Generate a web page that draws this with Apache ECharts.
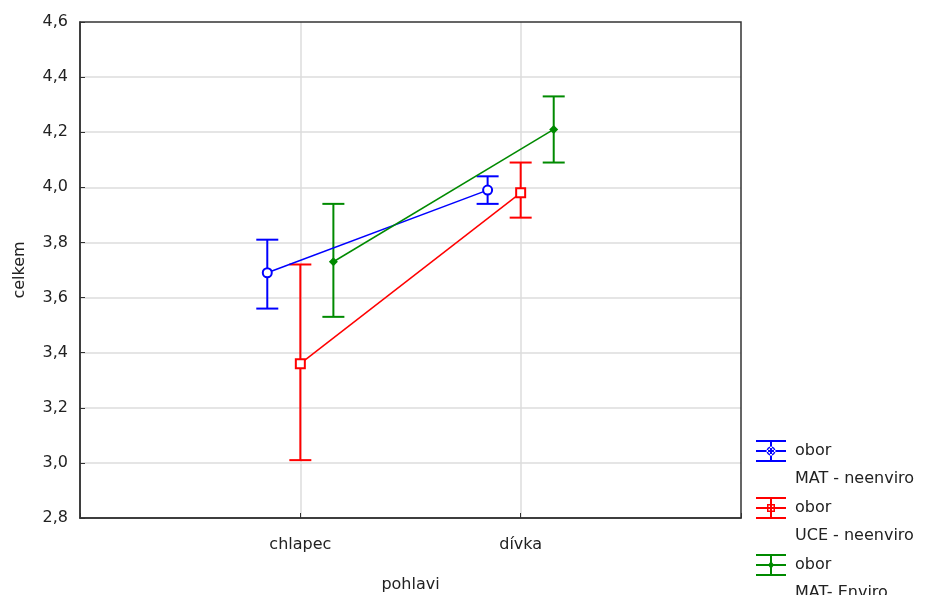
<!DOCTYPE html>
<html><head><meta charset="utf-8">
<script src="https://cdn.jsdelivr.net/npm/echarts@6/dist/echarts.min.js"></script>
<style>html,body{margin:0;padding:0;background:#fff}#c{width:925px;height:595px}</style>
</head><body><div id="c"></div>
<script>
const categories = ['chlapec', 'dívka'];
const seriesNames = ['obor\nMAT - neenviro', 'obor\nUCE - neenviro', 'obor\nMAT- Enviro'];
const means = [
  [3.69, 3.99],
  [3.36, 3.98],
  [3.73, 4.21]
];
const lows = [
  [3.56, 3.94],
  [3.01, 3.89],
  [3.53, 4.09]
];
const highs = [
  [3.81, 4.04],
  [3.72, 4.09],
  [3.94, 4.33]
];
const yTicks = [2.8, 3.0, 3.2, 3.4, 3.6, 3.8, 4.0, 4.2, 4.4, 4.6];
const colors = ['#0000ff', '#ff0000', '#008a00'];
const symbols = ['emptyCircle', 'emptyRect', 'diamond'];
const offsets = [-0.15, 0, 0.15];

const FONT = 'DejaVu Sans';
// icon drawn in the top 22 units of a 30x50 box so it lines up with the first text line
const bars = 'M0,0H30V2H0Z M14,0H16V22H14Z M0,20H30V22H0Z M0,10H30V12H0Z M15,49.9H15.1V50H15Z';
const icons = [
  'path://' + bars + ' M19.5,11A4.5,4.5 0 1,0 10.5,11A4.5,4.5 0 1,0 19.5,11Z M18,11A3,3 0 1,1 12,11A3,3 0 1,1 18,11Z',
  'path://' + bars + ' M11,7H19V15H11Z M12.5,8.5V13.5H17.5V8.5Z',
  'path://' + bars + ' M15,7L18,11L15,15L12,11Z'
];

const series = [];
seriesNames.forEach((name, s) => {
  const pts = categories.map((c, i) => [i + 1 + offsets[s], means[s][i]]);
  series.push({
    name: name, type: 'line', data: pts,
    symbol: symbols[s], symbolSize: 9,
    lineStyle: { color: colors[s], width: 1.5 },
    itemStyle: { color: colors[s], borderWidth: 1.5 },
    z: 3
  });
  const eb = categories.map((c, i) => [i + 1 + offsets[s], lows[s][i], highs[s][i]]);
  series.push({
    name: name + '_err', type: 'custom', data: eb, z: 2,
    renderItem: function (params, api) {
      const x = api.value(0);
      const lo = api.coord([x, api.value(1)]);
      const hi = api.coord([x, api.value(2)]);
      const hw = 11;
      const st = { stroke: colors[s], lineWidth: 2 };
      return {
        type: 'group', children: [
          { type: 'line', shape: { x1: lo[0], y1: lo[1], x2: hi[0], y2: hi[1] }, style: st },
          { type: 'line', shape: { x1: lo[0] - hw, y1: lo[1], x2: lo[0] + hw, y2: lo[1] }, style: st },
          { type: 'line', shape: { x1: hi[0] - hw, y1: hi[1], x2: hi[0] + hw, y2: hi[1] }, style: st }
        ]
      };
    }
  });
});

const chart = echarts.init(document.getElementById('c'));
chart.setOption({
  animation: false,
  textStyle: { fontFamily: FONT },
  grid: { left: 80, top: 22, right: 184, bottom: 77, show: true, borderColor: '#333', borderWidth: 1.5, backgroundColor: 'transparent', z: 5, outerBoundsMode: 'none', containLabel: false },
  xAxis: {
    type: 'value', min: 0, max: 3, interval: 1,
    name: 'pohlavi', nameLocation: 'middle', nameGap: 59,
    nameTextStyle: { fontFamily: FONT, fontSize: 16, color: '#222' },
    axisLine: { show: true, lineStyle: { color: '#333', width: 1.5 } },
    axisTick: { show: true, inside: true, length: 5, lineStyle: { color: '#333' } },
    axisLabel: { fontFamily: FONT, fontSize: 16, color: '#222', margin: 19,
      formatter: v => (v >= 1 && v <= categories.length && Number.isInteger(v)) ? categories[v - 1] : '' },
    splitLine: { show: true, showMinLine: false, showMaxLine: false, lineStyle: { color: '#dcdcdc', width: 1.5 } }
  },
  yAxis: {
    type: 'value', min: yTicks[0], max: yTicks[yTicks.length - 1], interval: 0.2,
    name: 'celkem', nameLocation: 'middle', nameGap: 52,
    nameTextStyle: { fontFamily: FONT, fontSize: 16, color: '#222' },
    axisLine: { show: true, lineStyle: { color: '#333', width: 1.5 } },
    axisTick: { show: true, inside: true, length: 5, lineStyle: { color: '#333' } },
    axisLabel: { fontFamily: FONT, fontSize: 16, color: '#222', margin: 12,
      formatter: v => v.toFixed(1).replace('.', ',') },
    splitLine: { show: true, showMinLine: false, showMaxLine: false, lineStyle: { color: '#dcdcdc', width: 1.5 } }
  },
  legend: {
    orient: 'vertical', left: 751, top: 432, height: 400, itemWidth: 30, itemHeight: 50, itemGap: 1,
    textStyle: { fontFamily: FONT, fontSize: 16, color: '#222', lineHeight: 28, padding: [0, 0, 0, 4] },
    data: seriesNames.map((n, s) => ({ name: n, icon: icons[s], itemStyle: { color: colors[s], borderWidth: 0 } }))
  },
  series: series
});
</script></body></html>
